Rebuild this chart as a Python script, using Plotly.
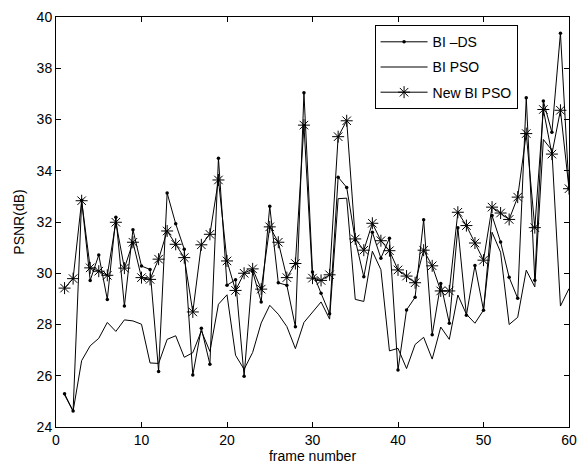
import plotly.graph_objects as go

frames = list(range(1, 61))

bi_ds = [25.3, 24.62, 32.85, 29.72, 30.71, 28.98, 32.19, 28.72, 31.70, 30.28,
         30.15, 26.17, 33.13, 31.93, 30.94, 26.03, 27.85, 26.45, 34.49, 29.53,
         29.75, 25.98, 30.07, 28.88, 32.61, 29.63, 29.53, 27.91, 37.04, 30.05,
         29.22, 28.42, 33.75, 33.35, 31.30, 29.86, 31.60, 30.59, 31.37, 26.22,
         28.57, 29.06, 32.09, 27.60, 29.60, 28.05, 31.78, 28.36, 30.30, 28.56,
         32.25, 31.22, 29.84, 29.02, 36.85, 29.73, 36.72, 35.50, 39.37, 33.30]

bi_pso = [25.25, 24.62, 26.59, 27.17, 27.46, 28.08, 27.73, 28.18, 28.14, 28.01,
          26.50, 26.48, 27.42, 27.56, 26.72, 26.90, 27.75, 26.95, 28.79, 29.16,
          26.80, 26.25, 26.91, 28.06, 28.75, 28.40, 27.92, 27.06, 28.08, 28.47,
          28.88, 28.21, 32.91, 32.93, 28.98, 28.90, 30.86, 30.14, 26.97, 27.07,
          26.28, 27.22, 27.50, 26.65, 27.90, 27.42, 29.15, 28.40, 28.05, 28.56,
          31.60, 30.82, 28.00, 28.28, 30.12, 29.47, 35.22, 34.80, 28.72, 29.40]

new_bi_pso = [29.42, 29.79, 32.83, 30.21, 30.08, 29.92, 31.99, 30.20, 31.21, 29.83,
              29.76, 30.55, 31.65, 31.13, 30.61, 28.49, 31.11, 31.52, 33.64, 30.48,
              29.33, 30.00, 30.17, 29.38, 31.81, 31.21, 29.83, 30.38, 35.78, 29.81,
              29.72, 29.94, 35.33, 35.95, 31.34, 30.90, 31.95, 31.27, 30.88, 30.13,
              29.89, 29.63, 30.90, 30.29, 29.31, 29.31, 32.38, 31.86, 31.18, 30.51,
              32.58, 32.35, 32.10, 32.97, 35.45, 31.78, 36.39, 34.65, 36.36, 33.30]

x_ticks = [0, 10, 20, 30, 40, 50, 60]
y_ticks = [24, 26, 28, 30, 32, 34, 36, 38, 40]

fig = go.Figure()
fig.add_trace(go.Scatter(x=frames, y=bi_ds, mode="lines+markers", name="BI \u2013DS",
                         legendgroup="a",
                         line=dict(color="black", width=1),
                         marker=dict(symbol="circle", size=3.5, color="black")))
fig.add_trace(go.Scatter(x=frames, y=bi_pso, mode="lines", name="BI PSO",
                         legendgroup="b",
                         line=dict(color="black", width=1)))
fig.add_trace(go.Scatter(x=frames, y=new_bi_pso, mode="lines+markers", name="New BI PSO",
                         legendgroup="c",
                         line=dict(color="black", width=1),
                         marker=dict(symbol="asterisk-open", size=10, color="black",
                                     line=dict(color="black", width=1))))

axis_common = dict(showgrid=False, zeroline=False, showline=True, linecolor="black",
                   linewidth=1, mirror="ticks", ticks="inside", ticklen=5,
                   tickcolor="black", tickfont=dict(family="Liberation Sans, Arial", size=14, color="black"))

fig.update_layout(
    width=586, height=471,
    margin=dict(l=56, r=9, t=16, b=43),
    paper_bgcolor="white", plot_bgcolor="white",
    font=dict(family="Liberation Sans, Arial", size=14, color="black"),
    xaxis=dict(range=[0, 60], tickvals=x_ticks,
               title=dict(text="frame number", standoff=4, font=dict(size=14)), **axis_common),
    yaxis=dict(range=[24, 40], tickvals=y_ticks,
               title=dict(text="PSNR(dB)", standoff=8, font=dict(size=14)), **axis_common),
    legend=dict(x=0.621, y=0.98, xanchor="left", yanchor="top",
                bgcolor="white", bordercolor="black", borderwidth=1,
                font=dict(size=14), tracegroupgap=4, itemwidth=47),
    showlegend=True,
)

fig.write_html("out.html")
